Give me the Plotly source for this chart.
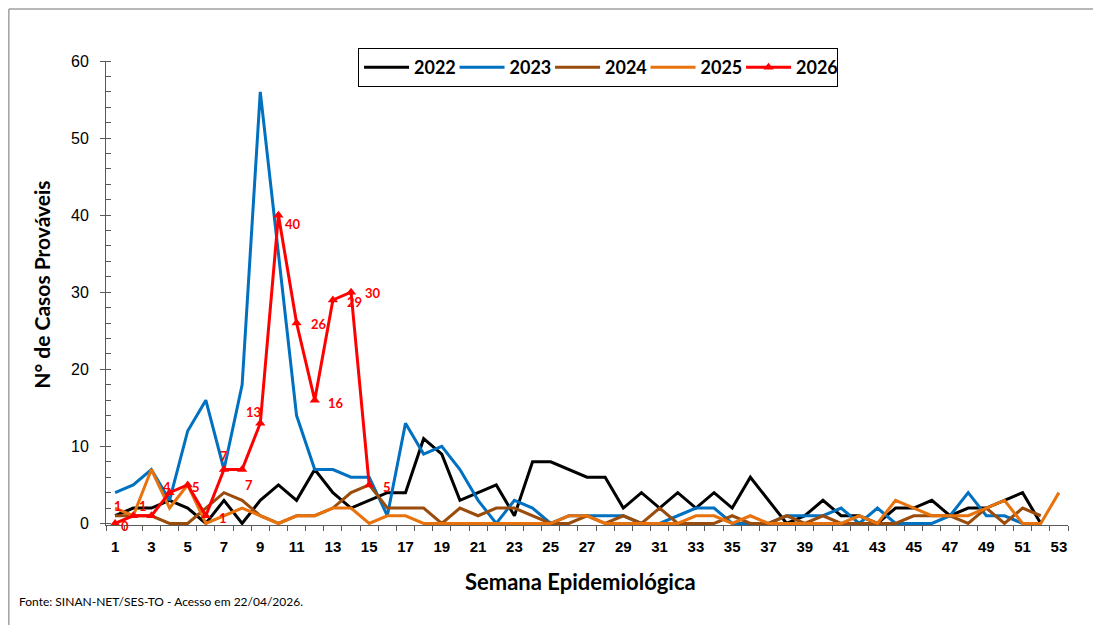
import plotly.graph_objects as go

weeks = list(range(1, 54))

cases_2022 = [1, 2, 2, 3, 2, 0, 3, 0, 3, 5, 3, 7, 4, 2, 3, 4, 4, 11, 9, 3,
              4, 5, 1, 8, 8, 7, 6, 6, 2, 4, 2, 4, 2, 4, 2, 6, 3, 0, 1, 3,
              1, 1, 0, 2, 2, 3, 1, 2, 2, 3, 4, 0]
cases_2023 = [4, 5, 7, 3, 12, 16, 7, 18, 56, 35, 14, 7, 7, 6, 6, 1, 13, 9, 10, 7,
              3, 0, 3, 2, 0, 1, 1, 1, 1, 0, 0, 1, 2, 2, 0, 0, 0, 1, 1, 1,
              2, 0, 2, 0, 0, 0, 1, 4, 1, 1, 0, 0]
cases_2024 = [1, 1, 1, 0, 0, 2, 4, 3, 1, 0, 1, 1, 2, 4, 5, 2, 2, 2, 0, 2,
              1, 2, 2, 1, 0, 0, 1, 0, 1, 0, 2, 0, 0, 0, 1, 0, 0, 1, 0, 1,
              0, 0, 0, 0, 1, 1, 1, 0, 2, 0, 2, 1]
cases_2025 = [2, 1, 7, 2, 5, 0, 1, 2, 1, 0, 1, 1, 2, 2, 0, 1, 1, 0, 0, 0,
              0, 0, 0, 0, 0, 1, 1, 0, 0, 0, 0, 0, 1, 1, 0, 1, 0, 0, 0, 0,
              0, 1, 0, 3, 2, 1, 1, 1, 2, 3, 0, 0, 4]
cases_2026 = [0, 1, 1, 4, 5, 1, 7, 7, 13, 40, 26, 16, 29, 30, 5]

week_labels = [str(w) for w in weeks if w % 2 == 1]
week_label_vals = [w for w in weeks if w % 2 == 1]

series = [
    ("2022", cases_2022, "#000000"),
    ("2023", cases_2023, "#0070C0"),
    ("2024", cases_2024, "#994C0C"),
    ("2025", cases_2025, "#E8720C"),
]

fig = go.Figure()
for name, vals, color in series:
    fig.add_trace(go.Scatter(
        x=weeks[:len(vals)], y=vals, name=name, mode="lines",
        line=dict(color=color, width=3),
    ))

fig.add_trace(go.Scatter(
    x=weeks[:len(cases_2026)], y=cases_2026, name="2026", mode="lines+markers",
    line=dict(color="#FF0000", width=3),
    marker=dict(symbol="triangle-up", size=9, color="#FF0000"),
    cliponaxis=False,
))

# data label offsets (pixels) for 2026 series
label_shift = [(10, -3), (-15, 10), (-8, 10), (-3, 6), (8, -2), (17, -2), (0, 14),
               (7, -15), (-7, 11), (15, -9), (22, -1), (21, -3), (22, -2), (22, -1), (18, -2)]
annotations = []
for w, v, (dx, dy) in zip(weeks, cases_2026, label_shift):
    annotations.append(dict(
        x=w, y=v, xref="x", yref="y", text=str(v), showarrow=False,
        xshift=dx, yshift=dy,
        font=dict(family="Lato", size=13, color="#FF0000", weight=700),
    ))

annotations.append(dict(
    x=0.493, y=-0.121, xref="paper", yref="paper", text="Semana Epidemiológica",
    showarrow=False, xanchor="center", yanchor="middle",
    font=dict(family="Lato", size=22, color="#000000", weight=700),
))
annotations.append(dict(
    x=-0.0665, y=0.518, xref="paper", yref="paper", text="N° de Casos Prováveis",
    showarrow=False, textangle=-90, xanchor="center", yanchor="middle",
    font=dict(family="Lato", size=21, color="#000000", weight=700),
))
annotations.append(dict(
    x=-0.092, y=-0.164, xref="paper", yref="paper",
    text="Fonte: SINAN-NET/SES-TO - Acesso em 22/04/2026.",
    showarrow=False, xanchor="left", yanchor="middle",
    font=dict(family="Lato", size=12, color="#000000"),
))

fig.update_layout(
    width=1093, height=617,
    margin=dict(l=98, r=33, t=53, b=100),
    paper_bgcolor="white", plot_bgcolor="white",
    showlegend=True,
    legend=dict(
        orientation="h", x=0.262, xanchor="left", y=1.028, yanchor="top",
        bordercolor="#000000", borderwidth=1, bgcolor="white",
        font=dict(family="Lato", size=18, color="#000000", weight=700),
        entrywidth=35.5, entrywidthmode="pixels", itemwidth=45,
        traceorder="normal",
    ),
    annotations=annotations,
    shapes=[
        dict(type="line", xref="paper", yref="paper", x0=-0.101, x1=-0.101, y0=-0.3, y1=1.112,
             line=dict(color="#A0A0A0", width=1.5)),
        dict(type="line", xref="paper", yref="paper", x0=-0.101, x1=1.1, y0=1.112, y1=1.112,
             line=dict(color="#A0A0A0", width=1.5)),
    ],
)

fig.update_xaxes(
    range=[0.5, 53.5], tickmode="array", tickvals=week_label_vals, ticktext=week_labels,
    ticks="", showgrid=False, zeroline=False, ticklabelstandoff=8,
    showline=True, linecolor="#595959", linewidth=1,
    tickfont=dict(family="Liberation Sans", size=15, color="#000000", weight=700),
    minor=dict(tick0=0.5, dtick=1, ticks="outside", ticklen=5, tickcolor="#595959", tickwidth=1, showgrid=False),
)
fig.update_yaxes(
    range=[-0.2, 60], tickmode="array", tickvals=[0, 10, 20, 30, 40, 50, 60],
    ticks="outside", ticklen=5, tickcolor="#595959", tickwidth=1, ticklabelstandoff=8,
    showgrid=False, zeroline=False,
    showline=True, linecolor="#595959", linewidth=1,
    tickfont=dict(family="Liberation Sans", size=16, color="#000000"),
    minor=dict(tick0=0, dtick=2, ticks="inside", ticklen=5, tickcolor="#595959", tickwidth=1, showgrid=False),
)

fig.write_html("out.html")
